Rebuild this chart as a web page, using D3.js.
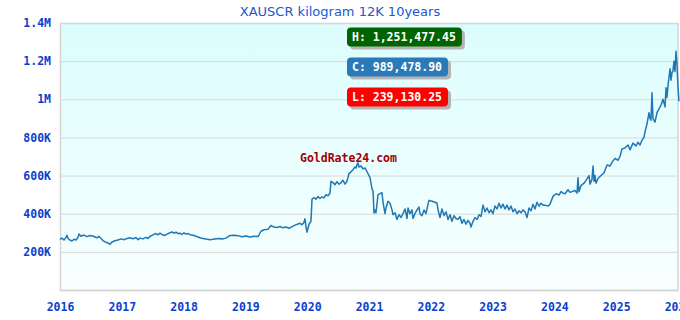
<!DOCTYPE html>
<html>
<head>
<meta charset="utf-8">
<script src="https://cdn.jsdelivr.net/npm/d3@7"></script>
<style>
  body { margin: 0; background: #fff; }
</style>
</head>
<body>
<div id="chart"></div>
<script>
var title = 'XAUSCR kilogram 12K 10years';
var watermark = 'GoldRate24.com';
var yTicks = [200, 400, 600, 800, 1000, 1200, 1400];
var xTicks = [2016, 2017, 2018, 2019, 2020, 2021, 2022, 2023, 2024, 2025, 2026];

// [decimal year, price in thousands]
var prices = [
  [2016.000,265],[2016.032,272],[2016.065,262],[2016.097,276],[2016.113,287],[2016.129,270],[2016.162,262],[2016.194,257],
  [2016.227,266],[2016.259,262],[2016.291,275],[2016.307,294],[2016.340,282],[2016.388,288],[2016.437,280],[2016.485,286],
  [2016.534,283],[2016.566,278],[2016.599,273],[2016.631,282],[2016.663,270],[2016.696,259],[2016.744,250],[2016.793,244],
  [2016.809,239.13025],[2016.841,252],[2016.890,258],[2016.939,262],[2016.987,268],[2017.036,264],[2017.084,270],[2017.133,274],
  [2017.181,269],[2017.230,275],[2017.262,264],[2017.294,272],[2017.343,268],[2017.392,276],[2017.424,270],[2017.456,282],
  [2017.489,286],[2017.521,292],[2017.553,296],[2017.586,289],[2017.618,298],[2017.667,288],[2017.699,286],[2017.731,293],
  [2017.780,300],[2017.812,304],[2017.845,298],[2017.877,303],[2017.909,296],[2017.942,298],[2017.974,291],[2018.006,300],
  [2018.039,293],[2018.071,296],[2018.104,290],[2018.152,287],[2018.201,282],[2018.265,274],[2018.314,270],[2018.362,267],
  [2018.427,264],[2018.476,266],[2018.524,269],[2018.589,270],
  [2018.621,268],[2018.686,272],[2018.751,286],[2018.816,287],[2018.880,285],[2018.945,279],[2019.010,283],[2019.074,278],
  [2019.139,282],[2019.204,280],[2019.252,308],[2019.301,316],[2019.366,318],[2019.414,338],[2019.463,330],[2019.511,328],
  [2019.560,333],[2019.608,326],[2019.657,330],[2019.706,324],[2019.754,332],[2019.803,340],[2019.851,346],[2019.883,350],
  [2019.916,342],[2019.948,355],[2019.964,373],[2019.981,330],[2019.997,303],[2020.029,345],[2020.061,360],[2020.078,477],
  [2020.110,484],[2020.142,476],[2020.175,490],[2020.207,480],[2020.239,488],[2020.272,483],[2020.304,500],[2020.337,494],
  [2020.369,508],[2020.385,570],[2020.417,563],[2020.450,552],[2020.482,568],[2020.515,555],[2020.547,562],[2020.579,575],
  [2020.612,555],[2020.644,570],[2020.676,610],[2020.709,620],[2020.741,631],[2020.773,645],[2020.790,640],[2020.806,657],
  [2020.822,666],[2020.838,645],[2020.871,650],[2020.903,635],[2020.935,640],[2020.968,620],[2021.000,600],[2021.016,590],
  [2021.032,560],[2021.049,530],[2021.065,520],[2021.081,404],[2021.097,420],[2021.113,405],[2021.129,450],[2021.146,500],
  [2021.178,505],[2021.210,510],[2021.227,460],
  [2021.259,400],[2021.275,430],[2021.307,465],[2021.340,455],[2021.372,420],[2021.388,395],[2021.421,405],[2021.453,370],
  [2021.485,395],[2021.518,380],[2021.550,400],[2021.583,425],[2021.615,375],[2021.631,430],[2021.663,400],[2021.696,420],
  [2021.712,375],[2021.744,400],[2021.777,420],[2021.809,435],[2021.825,400],[2021.858,390],[2021.890,420],[2021.922,400],
  [2021.955,450],[2021.971,470],[2022.019,465],[2022.068,460],[2022.100,455],[2022.117,420],[2022.149,380],[2022.181,425],
  [2022.214,390],[2022.246,410],[2022.278,370],[2022.311,395],[2022.343,360],[2022.375,390],[2022.408,375],[2022.440,370],
  [2022.472,385],[2022.505,350],[2022.537,370],[2022.570,345],[2022.602,365],[2022.634,350],[2022.650,330],[2022.683,360],
  [2022.715,380],[2022.748,370],[2022.780,395],[2022.812,385],[2022.845,445],[2022.877,410],[2022.909,430],[2022.942,405],
  [2022.974,420],[2023.006,400],[2023.039,440],[2023.071,425],[2023.104,455],[2023.136,430],[2023.168,450],[2023.201,425],
  [2023.233,445],[2023.265,420],[2023.298,440],[2023.330,410],[2023.362,425],[2023.395,400],[2023.427,415],[2023.460,405],
  [2023.492,420],[2023.524,410],[2023.557,380],[2023.589,430],[2023.621,415],[2023.654,450],[2023.686,425],[2023.718,460],
  [2023.751,440],[2023.783,455],[2023.816,445],[2023.848,445],[2023.896,440],[2023.929,450],
  [2023.977,491],[2024.026,505],[2024.074,498],[2024.107,516],[2024.139,508],[2024.172,505],[2024.220,526],[2024.252,512],
  [2024.285,516],[2024.333,522],[2024.366,508],[2024.382,588],[2024.398,515],[2024.430,547],[2024.479,560],[2024.511,575],
  [2024.560,600],[2024.576,555],[2024.608,580],[2024.625,650],[2024.641,570],[2024.657,600],[2024.673,560],[2024.706,585],
  [2024.754,600],[2024.803,615],[2024.851,655],[2024.900,650],[2024.932,670],[2024.981,690],[2025.029,680],[2025.061,700],
  [2025.094,740],[2025.142,745],[2025.191,760],[2025.223,735],[2025.272,770],[2025.320,755],[2025.353,775],[2025.385,760],
  [2025.417,785],[2025.450,800],[2025.466,830],[2025.498,870],[2025.531,930],[2025.547,900],[2025.563,890],[2025.579,1034],
  [2025.595,900],[2025.628,880],[2025.660,930],[2025.693,950],[2025.725,970],[2025.757,1000],[2025.790,960],[2025.806,1060],
  [2025.822,1010],[2025.838,1070],[2025.871,1160],[2025.887,1100],[2025.903,1140],[2025.919,1150],[2025.935,1200],[2025.951,1145],
  [2025.968,1251.47745],[2025.984,1180],[2026.000,1065],[2026.016,989.4789]
];

var width = 680, height = 320;
var margin = {top: 23, right: 2, bottom: 30, left: 60};
var plotW = width - margin.left - margin.right;
var plotH = height - margin.top - margin.bottom;
var labelFont = '"DejaVu Sans Mono", monospace';

var svg = d3.select('#chart').append('svg')
    .attr('width', width)
    .attr('height', height);

var defs = svg.append('defs');
var grad = defs.append('linearGradient')
    .attr('id', 'bg')
    .attr('x1', 0).attr('y1', 0).attr('x2', 0).attr('y2', 1);
grad.append('stop').attr('offset', '0%').attr('stop-color', '#dcfdfd');
grad.append('stop').attr('offset', '100%').attr('stop-color', '#f8ffff');

var x = d3.scaleLinear().domain([2016, 2026]).range([0, plotW]);
var y = d3.scaleLinear().domain([0, 1400]).range([plotH, 0]);

var g = svg.append('g')
    .attr('transform', 'translate(' + margin.left + ',' + margin.top + ')');

g.append('rect')
    .attr('width', plotW)
    .attr('height', plotH)
    .attr('fill', 'url(#bg)');

var fmt = function (v) {
    return v >= 1000 ? (v / 1000) + 'M' : v + 'K';
};

var yAxis = g.append('g')
    .attr('class', 'y axis')
    .call(d3.axisLeft(y).tickValues(yTicks).tickSize(-plotW).tickPadding(9).tickFormat(fmt));
yAxis.select('.domain').attr('stroke', '#d4d4d4').attr('stroke-width', 1.5);
yAxis.selectAll('.tick line').attr('stroke', '#d8d8d8');

var xAxis = g.append('g')
    .attr('class', 'x axis')
    .attr('transform', 'translate(0,' + plotH + ')')
    .call(d3.axisBottom(x).tickValues(xTicks).tickSize(0).tickPadding(13).tickFormat(d3.format('d')));
xAxis.select('.domain').attr('stroke', '#d4d4d4').attr('stroke-width', 1.5);

svg.selectAll('.axis text')
    .attr('fill', '#0b3fd0')
    .style('font-family', labelFont)
    .style('font-weight', 'bold')
    .style('font-size', '11.5px');

// right border
g.append('line')
    .attr('x1', plotW).attr('x2', plotW)
    .attr('y1', 0).attr('y2', plotH)
    .attr('stroke', '#d4d4d4').attr('stroke-width', 1.5);

var line = d3.line()
    .x(function (d) { return x(d[0]); })
    .y(function (d) { return y(d[1]); });

g.append('path')
    .datum(prices)
    .attr('fill', 'none')
    .attr('stroke', '#1f77b4')
    .attr('stroke-width', 1.5)
    .attr('stroke-linejoin', 'round')
    .attr('d', line);

// title
svg.append('text')
    .attr('x', 340)
    .attr('y', 16)
    .attr('text-anchor', 'middle')
    .attr('fill', '#2258d0')
    .style('font-family', '"DejaVu Sans", Verdana, sans-serif')
    .style('font-size', '13px')
    .text(title);

// watermark
svg.append('text')
    .attr('x', 300)
    .attr('y', 162)
    .attr('fill', '#a00000')
    .style('font-family', labelFont)
    .style('font-weight', 'bold')
    .style('font-size', '11.5px')
    .text(watermark);

// high / close / low badges
var num = ',.2f';
var badges = [
    {label: 'H', value: d3.max(prices, function (d) { return d[1]; }), color: '#006400'},
    {label: 'C', value: prices[prices.length - 1][1], color: '#2a7ab9'},
    {label: 'L', value: d3.min(prices, function (d) { return d[1]; }), color: '#ff0000'}
];

badges.forEach(function (b, i) {
    var top = 27.5 + i * 30;
    var bg = svg.append('g').attr('transform', 'translate(347,' + top + ')');
    var shadow = bg.append('rect').attr('x', 3).attr('y', 3).attr('height', 19).attr('rx', 4)
        .attr('fill', '#b4b4b4');
    var box = bg.append('rect').attr('height', 19).attr('rx', 4).attr('fill', b.color);
    var t = bg.append('text')
        .attr('x', 5)
        .attr('y', 13.5)
        .attr('fill', '#fff')
        .style('font-family', labelFont)
        .style('font-weight', 'bold')
        .style('font-size', '11.5px')
        .text(b.label + ': ' + d3.format(num)(b.value * 1000));
    var w = t.node().getComputedTextLength() + 11;
    shadow.attr('width', w);
    box.attr('width', w);
});
</script>
</body>
</html>
